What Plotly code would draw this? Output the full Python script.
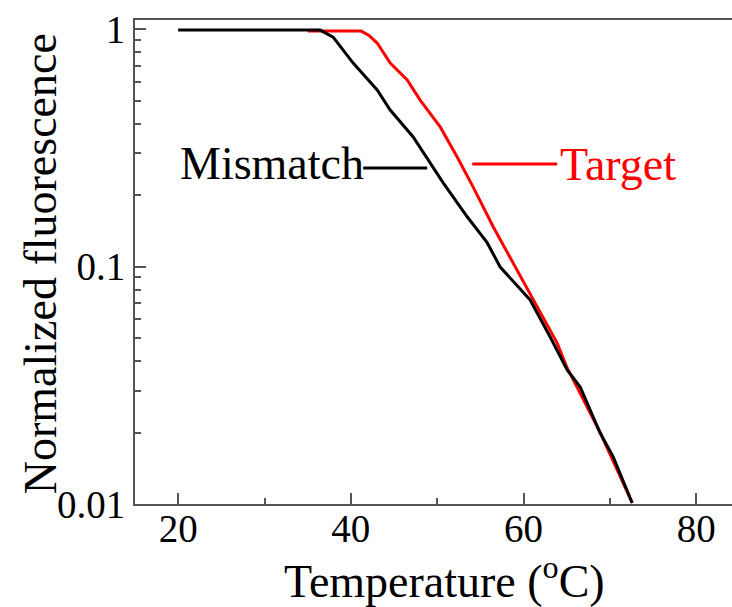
import math
import plotly.graph_objects as go

# Melting curves: normalized fluorescence vs temperature
temp_mismatch = [20.0, 36.45, 37.95, 40.27, 43.05, 44.56, 47.22, 49.54, 50.70, 53.48,
                 55.79, 57.30, 60.77, 63.09, 65.06, 66.57, 68.88, 70.39, 72.59]
fluor_mismatch = [0.99, 0.99, 0.925, 0.719, 0.554, 0.456, 0.351, 0.262, 0.225, 0.162,
                  0.126, 0.0995, 0.0723, 0.0505, 0.0367, 0.0311, 0.0199, 0.0158, 0.0101]

temp_target = [35.0, 41.2, 42.1, 43.05, 44.56, 46.53, 48.03, 50.35, 52.32, 54.17, 56.49,
               58.80, 61.12, 63.90, 65.06, 68.88, 72.59]
fluor_target = [0.98, 0.98, 0.94, 0.873, 0.719, 0.610, 0.502, 0.387, 0.289, 0.216, 0.147,
                0.1035, 0.0735, 0.0476, 0.0374, 0.0200, 0.0101]

# Leader lines next to the curve labels
mismatch_leader_x = [41.43, 48.84]
mismatch_leader_y = [0.260, 0.260]
target_leader_x = [54.06, 63.90]
target_leader_y = [0.270, 0.270]

x_tick_vals = [20, 40, 60, 80]
x_minor_vals = [30, 50, 70]
y_tick_vals = [0.01, 0.1, 1]
y_tick_text = ["0.01", "0.1", "1"]
y_minor_vals = [0.02, 0.03, 0.04, 0.05, 0.06, 0.07, 0.08, 0.09,
                0.2, 0.3, 0.4, 0.5, 0.6, 0.7, 0.8, 0.9]

FONT = "Liberation Serif"
AXIS_COLOR = "#555555"

fig = go.Figure()
fig.add_trace(go.Scatter(x=temp_target, y=fluor_target, mode="lines",
                         line=dict(color="#ff0000", width=3), showlegend=False))
fig.add_trace(go.Scatter(x=temp_mismatch, y=fluor_mismatch, mode="lines",
                         line=dict(color="#000000", width=3), showlegend=False))
fig.add_trace(go.Scatter(x=mismatch_leader_x, y=mismatch_leader_y, mode="lines",
                         line=dict(color="#000000", width=3), showlegend=False))
fig.add_trace(go.Scatter(x=target_leader_x, y=target_leader_y, mode="lines",
                         line=dict(color="#ff0000", width=3), showlegend=False))

# Curve labels (annotation y on a log axis is given in log10 units)
fig.add_annotation(x=mismatch_leader_x[0], y=math.log10(mismatch_leader_y[0]),
                   xref="x", yref="y", text="Mismatch", showarrow=False,
                   xanchor="right", yanchor="middle", xshift=3, yshift=4,
                   font=dict(family=FONT, size=46, color="#000000"))
fig.add_annotation(x=target_leader_x[1], y=math.log10(target_leader_y[0]),
                   xref="x", yref="y", text="Target", showarrow=False,
                   xanchor="left", yanchor="middle", xshift=1, yshift=0,
                   font=dict(family=FONT, size=46, color="#ff0000"))

# Axis titles
fig.add_annotation(x=0.519, y=-0.153, xref="paper", yref="paper",
                   text="Temperature (<sup>o</sup>C)", showarrow=False,
                   xanchor="center", yanchor="middle",
                   font=dict(family=FONT, size=46, color="#000000"))
fig.add_annotation(x=-0.157, y=0.496, xref="paper", yref="paper",
                   text="Normalized fluorescence", showarrow=False, textangle=-90,
                   xanchor="center", yanchor="middle",
                   font=dict(family=FONT, size=46, color="#000000"))

fig.update_xaxes(range=[15.0, 84.15], tickvals=x_tick_vals,
                 ticks="inside", ticklen=11, tickwidth=2, tickcolor=AXIS_COLOR,
                 ticklabelstandoff=-11,
                 showline=True, linecolor=AXIS_COLOR, linewidth=2, mirror=True,
                 showgrid=False, zeroline=False,
                 tickfont=dict(family=FONT, size=39, color="#000000"),
                 minor=dict(tickvals=x_minor_vals, ticks="inside", ticklen=6,
                            tickwidth=2, tickcolor=AXIS_COLOR, showgrid=False))
fig.update_yaxes(type="log", range=[-2, 0.038], tickvals=y_tick_vals, ticktext=y_tick_text,
                 ticks="inside", ticklen=11, tickwidth=2, tickcolor=AXIS_COLOR,
                 showline=True, linecolor=AXIS_COLOR, linewidth=2, mirror=False,
                 showgrid=False, zeroline=False,
                 tickfont=dict(family=FONT, size=39, color="#000000"),
                 minor=dict(tickvals=y_minor_vals, ticks="inside", ticklen=6,
                            tickwidth=2, tickcolor=AXIS_COLOR, showgrid=False))

fig.update_layout(width=732, height=607,
                  margin=dict(l=135, r=0, t=20, b=103),
                  paper_bgcolor="white", plot_bgcolor="white")

fig.write_html("out.html")
